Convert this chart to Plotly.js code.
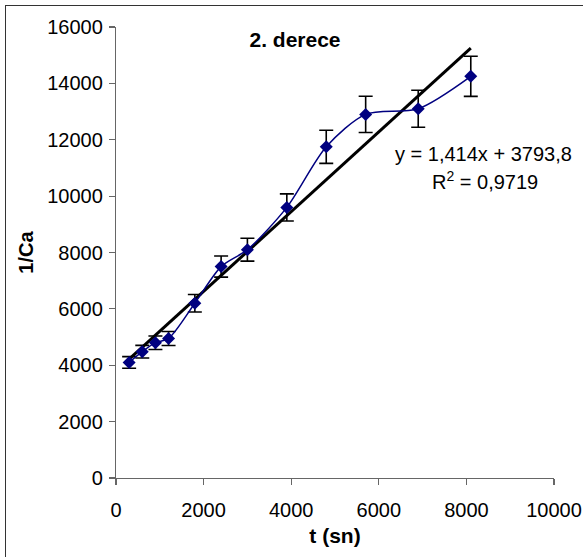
<!DOCTYPE html>
<html>
<head>
<meta charset="utf-8">
<script src="https://cdn.plot.ly/plotly-3.0.1.min.js"></script>
<style>
body{margin:0;padding:0;background:#fff;}
#chart{width:583px;height:557px;position:absolute;left:0;top:0;}
#frame{position:absolute;left:5px;top:5px;width:600px;height:600px;border-left:1.5px solid #333;border-top:1.5px solid #333;pointer-events:none;}
</style>
</head>
<body>
<div id="chart"></div>
<div id="frame"></div>
<script>
const tValues = [300, 600, 900, 1200, 1800, 2400, 3000, 3900, 4800, 5700, 6900, 8100];
const invCa = [4100, 4480, 4800, 4950, 6200, 7500, 8100, 9600, 11750, 12900, 13100, 14250];
const errorPercent = 5;
const slope = 1.414;
const intercept = 3793.8;
const xTicks = [0, 2000, 4000, 6000, 8000, 10000];
const yTicks = [0, 2000, 4000, 6000, 8000, 10000, 12000, 14000, 16000];

const xMin = Math.min(...tValues), xMax = Math.max(...tValues);
const trendX = [xMin, xMax];
const trendY = trendX.map(x => slope * x + intercept);

const font = "Liberation Sans, Arial, sans-serif";

const data = [
  {
    x: trendX, y: trendY, type: 'scatter', mode: 'lines',
    line: {color: '#000000', width: 3}, hoverinfo: 'skip', showlegend: false
  },
  {
    x: tValues, y: invCa, type: 'scatter', mode: 'lines+markers',
    line: {color: '#000080', width: 1.5, shape: 'spline', smoothing: 0.8},
    marker: {symbol: 'diamond', size: 10, color: '#000080'},
    error_y: {type: 'percent', value: errorPercent, visible: true, color: '#000000', thickness: 1.6, width: 7},
    showlegend: false
  }
];

const layout = {
  width: 583, height: 557,
  margin: {l: 116, r: 29, t: 27, b: 79},
  paper_bgcolor: '#ffffff', plot_bgcolor: '#ffffff',
  font: {family: font, size: 20, color: '#000'},
  showlegend: false,
  title: {text: '<b>2. derece</b>', x: 0.506, xanchor: 'center', y: 0.928, yanchor: 'middle', font: {family: font, size: 21, color: '#000'}},
  xaxis: {
    range: [0, 10000], tickvals: xTicks, ticktext: xTicks.map(String),
    showgrid: false, zeroline: false, showline: true, linecolor: '#666', linewidth: 1.2,
    ticks: 'outside', ticklen: 6, tickcolor: '#666', tickwidth: 1.2, ticklabelstandoff: 8,
    tickfont: {family: font, size: 20}, fixedrange: true,
    title: {text: '<b>t (sn)</b>', font: {family: font, size: 21}, standoff: 8}
  },
  yaxis: {
    range: [0, 16000], tickvals: yTicks, ticktext: yTicks.map(String),
    showgrid: false, zeroline: false, showline: true, linecolor: '#666', linewidth: 1.2,
    ticks: 'outside', ticklen: 6, tickcolor: '#666', tickwidth: 1.2, ticklabelstandoff: 2,
    tickfont: {family: font, size: 20}, fixedrange: true,
    title: {text: '<b>1/Ca</b>', font: {family: font, size: 20}, standoff: 8}
  },
  annotations: [
    {xref: 'x', yref: 'y', x: 8400, y: 11494, text: 'y = 1,414x + 3793,8', showarrow: false,
     xanchor: 'center', yanchor: 'middle', font: {family: font, size: 20, color: '#000'}},
    {xref: 'x', yref: 'y', x: 8420, y: 10570, text: 'R<sup>2</sup> = 0,9719', showarrow: false,
     xanchor: 'center', yanchor: 'middle', font: {family: font, size: 20, color: '#000'}}
  ]
};

Plotly.newPlot('chart', data, layout, {displayModeBar: false, staticPlot: true});
</script>
</body>
</html>
